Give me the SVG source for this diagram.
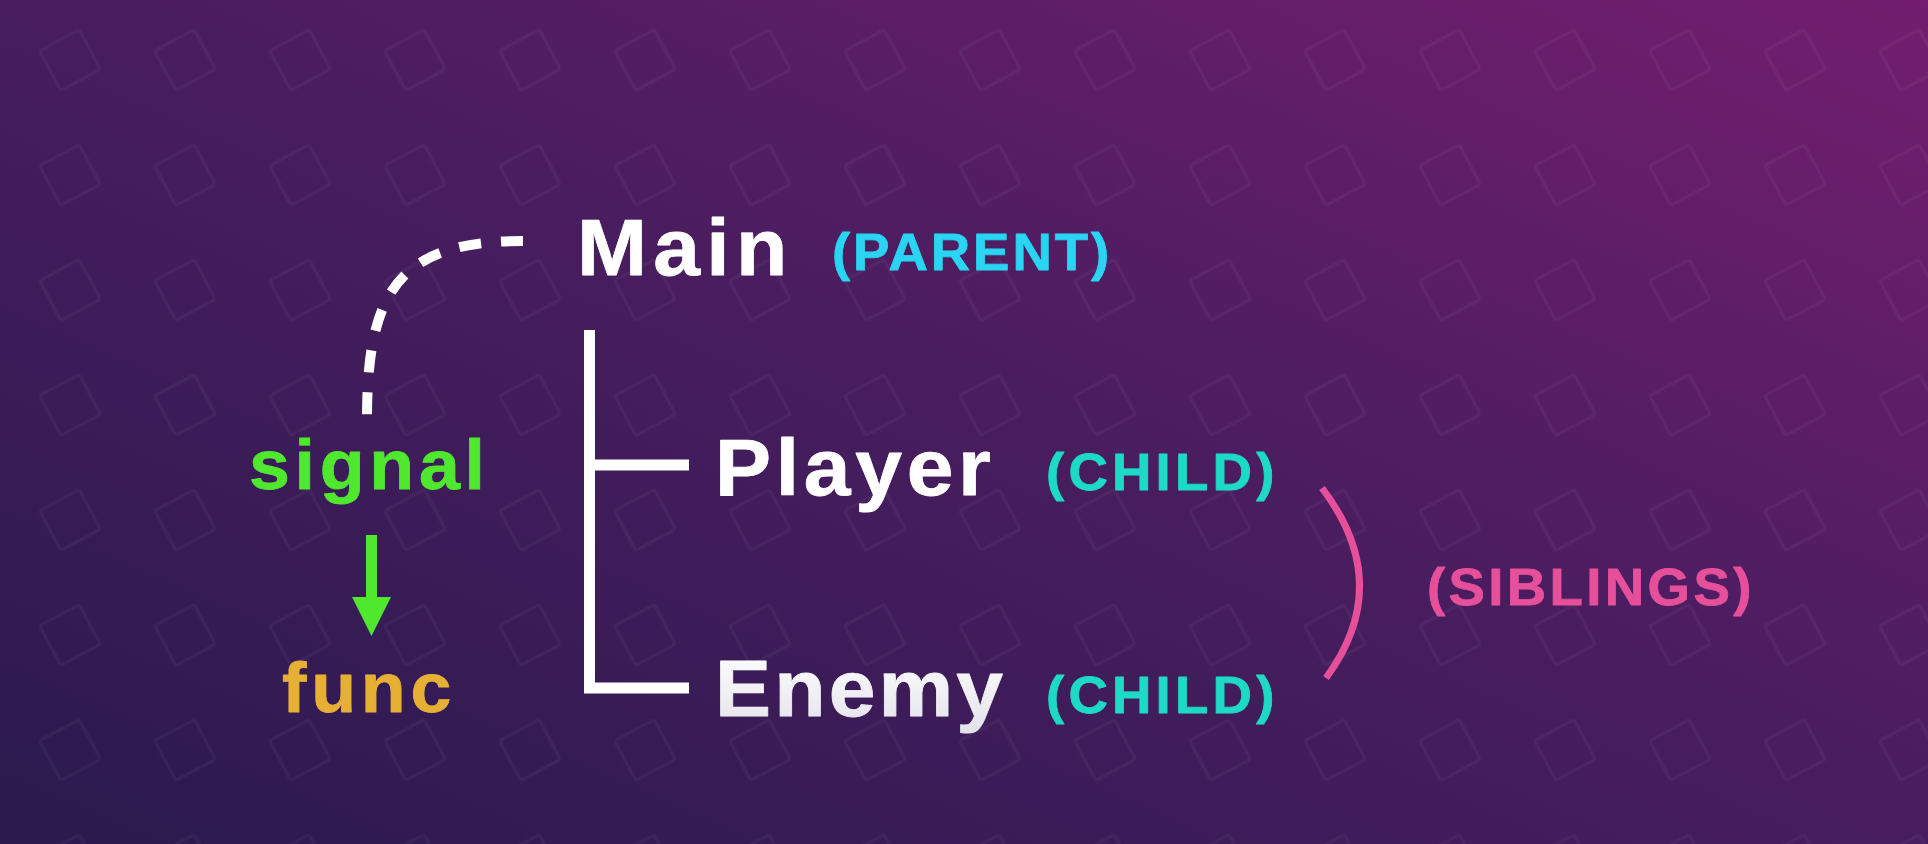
<svg xmlns="http://www.w3.org/2000/svg" width="1928" height="844" viewBox="0 0 1928 844">
<defs>
<linearGradient id="bg" x1="0" y1="1" x2="1" y2="0">
<stop offset="0" stop-color="#2a1a4e"/>
<stop offset="0.5" stop-color="#471d5e"/>
<stop offset="1" stop-color="#731e70"/>
</linearGradient>
<linearGradient id="enemyGrad" x1="0" y1="0" x2="0" y2="1">
<stop offset="0" stop-color="#ffffff"/>
<stop offset="1" stop-color="#e4e2ea"/>
</linearGradient>
<pattern id="squares" patternUnits="userSpaceOnUse" x="12.5" y="2.5" width="115" height="115">
<rect x="35" y="35" width="45" height="45" rx="3" fill="none" stroke="#ffffff" stroke-opacity="0.045" stroke-width="3" transform="rotate(-28 57.5 57.5)"/>
</pattern>
<style>
.t{font-family:"Liberation Sans",Arial,sans-serif;font-weight:bold;stroke-width:0.8;stroke-linejoin:round}
.big{font-size:80px;letter-spacing:4.5px;fill:#ffffff;stroke:#ffffff}
.tag{font-size:52px}
.code{font-size:70px}
.cyan{fill:#29d5f2;stroke:#29d5f2}
.teal{fill:#1ddac6;stroke:#1ddac6}
.pink{fill:#e6509b;stroke:#e6509b}
.green{fill:#4fe82e;stroke:#4fe82e}
.gold{fill:#e6b035;stroke:#e6b035}
.line{stroke:#ffffff;stroke-width:11;fill:none}
</style>
</defs>
<rect width="1928" height="844" fill="url(#bg)"/>
<rect width="1928" height="844" fill="url(#squares)"/>

<g id="connectors">
<path d="M523,241 C400,241 367,290 367,418" fill="none" stroke="#ffffff" stroke-width="10" stroke-dasharray="22 20"/>
<path class="line" d="M589.5,330 V688 H689"/>
<path class="line" d="M589.5,465 H689"/>
<line x1="371.5" y1="535" x2="371.5" y2="600" stroke="#4fe82e" stroke-width="11"/>
<polygon points="352,597 391,597 371.5,636" fill="#4fe82e"/>
<path d="M1322,488 Q1395,584 1326,678" fill="none" stroke="#e6509b" stroke-width="7"/>
</g>

<g id="main">
<text class="t big" transform="translate(577 275) scale(1.05 1)" style="font-size:80px;letter-spacing:6px">Main</text>
<text class="t tag cyan" transform="translate(832 270) scale(1.05 1)" style="letter-spacing:2.8px">(PARENT)</text>
</g>
<g id="player">
<text class="t big" transform="translate(715 495) scale(1.05 1)">Player</text>
<text class="t tag teal" transform="translate(1046 490) scale(1.05 1)" style="letter-spacing:4px">(CHILD)</text>
</g>
<g id="enemy">
<text class="t big" transform="translate(715 716) scale(1.05 1)" style="fill:url(#enemyGrad);stroke:url(#enemyGrad);letter-spacing:3px">Enemy</text>
<text class="t tag teal" transform="translate(1046 713) scale(1.05 1)" style="letter-spacing:4px">(CHILD)</text>
</g>
<g id="siblings">
<text class="t tag pink" transform="translate(1427 605) scale(1.05 1)" style="letter-spacing:3.2px">(SIBLINGS)</text>
</g>
<g id="signal">
<text class="t code green" transform="translate(249 489) scale(1.05 1)" style="letter-spacing:4.5px">signal</text>
</g>
<g id="func">
<text class="t code gold" transform="translate(282 712) scale(1.05 1)" style="letter-spacing:4.5px">func</text>
</g>
</svg>
